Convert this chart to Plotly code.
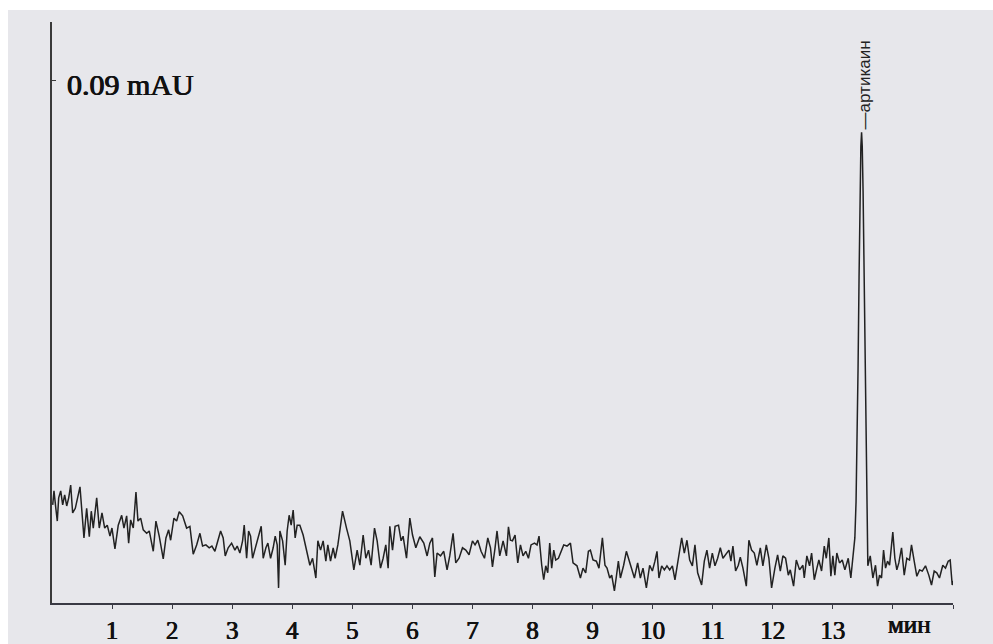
import plotly.graph_objects as go

# Retention time (min) and detector signal (mAU)
time_min = [
    0.012, 0.033, 0.067, 0.088, 0.111, 0.145, 0.178, 0.211, 0.245, 0.278,
    0.311, 0.344, 0.388, 0.466, 0.532, 0.577, 0.621, 0.654, 0.687, 0.744,
    0.787, 0.832, 0.877, 0.920, 0.965, 0.998, 1.048, 1.103, 1.160, 1.198,
    1.243, 1.276, 1.309, 1.353, 1.398, 1.431, 1.476, 1.519, 1.576, 1.619,
    1.686, 1.730, 1.785, 1.852, 1.897, 1.942, 1.975, 2.030, 2.075, 2.118,
    2.175, 2.241, 2.296, 2.351, 2.408, 2.463, 2.507, 2.562, 2.617, 2.662,
    2.712, 2.767, 2.807, 2.850, 2.884, 2.933, 2.990, 3.045, 3.083, 3.128,
    3.173, 3.200, 3.240, 3.273, 3.306, 3.339, 3.394, 3.439, 3.483, 3.516,
    3.561, 3.594, 3.639, 3.682, 3.716, 3.749, 3.772, 3.794, 3.839, 3.882,
    3.915, 3.948, 3.982, 4.015, 4.048, 4.082, 4.126, 4.181, 4.238, 4.293,
    4.338, 4.393, 4.426, 4.471, 4.514, 4.559, 4.592, 4.637, 4.681, 4.714,
    4.759, 4.837, 4.903, 4.958, 5.025, 5.080, 5.125, 5.180, 5.225, 5.270,
    5.313, 5.369, 5.413, 5.469, 5.513, 5.557, 5.596, 5.624, 5.669, 5.712,
    5.769, 5.812, 5.845, 5.902, 5.957, 6.002, 6.057, 6.123, 6.190, 6.245,
    6.290, 6.334, 6.373, 6.411, 6.468, 6.522, 6.577, 6.622, 6.677, 6.722,
    6.777, 6.834, 6.889, 6.943, 7.000, 7.043, 7.088, 7.143, 7.200, 7.255,
    7.300, 7.333, 7.376, 7.409, 7.454, 7.510, 7.566, 7.599, 7.632, 7.666,
    7.709, 7.754, 7.799, 7.842, 7.887, 7.932, 7.975, 8.032, 8.075, 8.108,
    8.153, 8.186, 8.220, 8.253, 8.286, 8.319, 8.353, 8.386, 8.431, 8.474,
    8.519, 8.574, 8.631, 8.674, 8.740, 8.797, 8.840, 8.885, 8.930, 8.963,
    9.007, 9.063, 9.106, 9.163, 9.206, 9.240, 9.285, 9.318, 9.363, 9.396,
    9.429, 9.463, 9.517, 9.562, 9.606, 9.651, 9.696, 9.750, 9.795, 9.839,
    9.895, 9.950, 9.995, 10.038, 10.072, 10.105, 10.150, 10.195, 10.238, 10.283,
    10.328, 10.371, 10.416, 10.483, 10.527, 10.571, 10.616, 10.661, 10.704, 10.749,
    10.815, 10.860, 10.903, 10.948, 10.993, 11.037, 11.082, 11.126, 11.170, 11.226,
    11.270, 11.303, 11.336, 11.381, 11.426, 11.459, 11.503, 11.559, 11.602, 11.647,
    11.692, 11.735, 11.792, 11.835, 11.892, 11.935, 11.980, 12.035, 12.080, 12.125,
    12.168, 12.213, 12.258, 12.291, 12.346, 12.391, 12.446, 12.501, 12.524, 12.567,
    12.612, 12.646, 12.691, 12.734, 12.767, 12.812, 12.857, 12.890, 12.933, 12.967,
    13.000, 13.033, 13.066, 13.111, 13.156, 13.200, 13.256, 13.299, 13.333, 13.366,
    13.386, 13.403, 13.419, 13.436, 13.453, 13.466, 13.478, 13.489, 13.503, 13.519,
    13.536, 13.553, 13.569, 13.582, 13.622, 13.666, 13.710, 13.744, 13.777, 13.810,
    13.844, 13.877, 13.910, 13.944, 13.977, 13.998, 14.032, 14.065, 14.098, 14.143,
    14.188, 14.231, 14.276, 14.309, 14.354, 14.398, 14.443, 14.488, 14.542, 14.597,
    14.642, 14.687, 14.730, 14.775, 14.830, 14.875, 14.920, 14.953, 14.987, 15.008,
]

signal_mAU = [
    0.0169, 0.0193, 0.0160, 0.0141, 0.0181, 0.0193, 0.0169, 0.0186, 0.0167, 0.0181,
    0.0203, 0.0155, 0.0163, 0.0200, 0.0112, 0.0163, 0.0114, 0.0158, 0.0129, 0.0181,
    0.0129, 0.0155, 0.0129, 0.0134, 0.0115, 0.0129, 0.0093, 0.0134, 0.0151, 0.0129,
    0.0150, 0.0103, 0.0143, 0.0129, 0.0191, 0.0141, 0.0146, 0.0126, 0.0120, 0.0124,
    0.0089, 0.0141, 0.0115, 0.0076, 0.0112, 0.0126, 0.0108, 0.0146, 0.0141, 0.0157,
    0.0150, 0.0129, 0.0132, 0.0084, 0.0100, 0.0120, 0.0098, 0.0100, 0.0095, 0.0098,
    0.0089, 0.0107, 0.0124, 0.0112, 0.0081, 0.0095, 0.0103, 0.0091, 0.0098, 0.0086,
    0.0107, 0.0134, 0.0077, 0.0124, 0.0115, 0.0077, 0.0100, 0.0115, 0.0132, 0.0077,
    0.0095, 0.0103, 0.0077, 0.0095, 0.0115, 0.0100, 0.0026, 0.0124, 0.0107, 0.0065,
    0.0124, 0.0151, 0.0134, 0.0160, 0.0112, 0.0134, 0.0134, 0.0117, 0.0091, 0.0065,
    0.0077, 0.0043, 0.0107, 0.0091, 0.0107, 0.0072, 0.0100, 0.0072, 0.0095, 0.0077,
    0.0100, 0.0158, 0.0129, 0.0107, 0.0057, 0.0091, 0.0065, 0.0117, 0.0077, 0.0091,
    0.0065, 0.0129, 0.0107, 0.0060, 0.0077, 0.0100, 0.0060, 0.0132, 0.0091, 0.0132,
    0.0134, 0.0107, 0.0115, 0.0077, 0.0146, 0.0117, 0.0095, 0.0114, 0.0103, 0.0081,
    0.0103, 0.0112, 0.0045, 0.0086, 0.0081, 0.0089, 0.0057, 0.0081, 0.0120, 0.0069,
    0.0077, 0.0095, 0.0091, 0.0083, 0.0107, 0.0100, 0.0108, 0.0089, 0.0077, 0.0112,
    0.0095, 0.0062, 0.0095, 0.0124, 0.0081, 0.0107, 0.0081, 0.0131, 0.0108, 0.0107,
    0.0117, 0.0069, 0.0100, 0.0081, 0.0089, 0.0077, 0.0100, 0.0103, 0.0100, 0.0115,
    0.0065, 0.0040, 0.0064, 0.0052, 0.0103, 0.0060, 0.0091, 0.0074, 0.0077, 0.0089,
    0.0100, 0.0098, 0.0103, 0.0069, 0.0064, 0.0043, 0.0060, 0.0052, 0.0089, 0.0091,
    0.0074, 0.0072, 0.0060, 0.0112, 0.0065, 0.0060, 0.0043, 0.0048, 0.0021, 0.0046,
    0.0072, 0.0043, 0.0065, 0.0089, 0.0074, 0.0055, 0.0043, 0.0069, 0.0043, 0.0060,
    0.0026, 0.0065, 0.0055, 0.0072, 0.0089, 0.0043, 0.0064, 0.0057, 0.0064, 0.0057,
    0.0064, 0.0040, 0.0072, 0.0112, 0.0086, 0.0108, 0.0074, 0.0064, 0.0100, 0.0052,
    0.0031, 0.0072, 0.0091, 0.0060, 0.0086, 0.0064, 0.0077, 0.0095, 0.0077, 0.0086,
    0.0091, 0.0072, 0.0098, 0.0055, 0.0065, 0.0079, 0.0060, 0.0029, 0.0108, 0.0091,
    0.0086, 0.0065, 0.0095, 0.0064, 0.0100, 0.0077, 0.0026, 0.0060, 0.0083, 0.0055,
    0.0081, 0.0077, 0.0048, 0.0057, 0.0029, 0.0074, 0.0057, 0.0065, 0.0043, 0.0081,
    0.0064, 0.0086, 0.0040, 0.0060, 0.0074, 0.0055, 0.0098, 0.0077, 0.0112, 0.0046,
    0.0081, 0.0048, 0.0086, 0.0069, 0.0074, 0.0057, 0.0077, 0.0043, 0.0086, 0.0112,
    0.0174, 0.0267, 0.0401, 0.0561, 0.0709, 0.0786, 0.0810, 0.0786, 0.0709, 0.0561,
    0.0401, 0.0267, 0.0120, 0.0064, 0.0081, 0.0043, 0.0065, 0.0029, 0.0048, 0.0043,
    0.0091, 0.0060, 0.0072, 0.0065, 0.0100, 0.0122, 0.0077, 0.0057, 0.0069, 0.0095,
    0.0048, 0.0077, 0.0074, 0.0100, 0.0072, 0.0046, 0.0057, 0.0055, 0.0064, 0.0048,
    0.0031, 0.0055, 0.0052, 0.0043, 0.0065, 0.0060, 0.0072, 0.0074, 0.0031, 0.0038,
]

tick_vals = [1, 2, 3, 4, 5, 6, 7, 8, 9, 10, 11, 12, 13, 14, 15]
tick_text = ["1", "2", "3", "4", "5", "6", "7", "8", "9", "10", "11", "12", "13", "", ""]
scale_value = 0.09
scale_label = "0.09 mAU"
unit_label = "мин"
unit_label_pos = 14.27
peak_name = "—артикаин"
peak_time = 13.53
peak_top = 0.0812

n = min(len(time_min), len(signal_mAU))

fig = go.Figure()
fig.add_trace(go.Scatter(
    x=time_min[:n], y=signal_mAU[:n], mode="lines",
    line=dict(color="#222222", width=1.5), hoverinfo="skip", showlegend=False,
))

serif = "Liberation Serif, Times New Roman, serif"
thick = "0.45px 0px 0px #111111, -0.45px 0px 0px #111111"

fig.update_layout(
    width=993, height=644,
    margin=dict(l=52, r=40, t=22, b=41),
    paper_bgcolor="white",
    plot_bgcolor="rgba(0,0,0,0)",
    showlegend=False,
    xaxis=dict(
        range=[0, 15], showgrid=False, zeroline=False, automargin=False,
        showline=True, linecolor="#3a3a44", linewidth=1.6,
        ticks="outside", ticklen=4, tickwidth=1.2, tickcolor="#3a3a44",
        tickvals=tick_vals, ticktext=tick_text,
        tickfont=dict(family=serif, size=25, color="#111111", shadow=thick),
    ),
    yaxis=dict(
        range=[0, 0.1], showgrid=False, zeroline=False, automargin=False,
        showline=True, linecolor="#3a3a3a", linewidth=1.6,
        ticks="inside", ticklen=4, tickwidth=1.2, tickcolor="#3a3a3a",
        tickvals=[scale_value], showticklabels=False,
    ),
    shapes=[dict(
        type="rect", xref="paper", yref="paper", layer="below",
        x0=-0.0488, x1=1.1, y0=-0.2, y1=1.0207,
        fillcolor="#e7e7eb", line=dict(width=0),
    )],
    annotations=[
        dict(x=0, xref="paper", y=scale_value, yref="y", xanchor="left", yanchor="middle",
             xshift=13, yshift=-4, showarrow=False, text=scale_label,
             font=dict(family=serif, size=30, color="#111111", shadow=thick)),
        dict(x=unit_label_pos, xref="x", y=0, yref="paper", xanchor="center", yanchor="top",
             yshift=-6, showarrow=False, text=unit_label,
             font=dict(family=serif, size=25, color="#111111", shadow=thick)),
        dict(x=peak_time, xref="x", y=peak_top, yref="y", xanchor="center", yanchor="bottom",
             showarrow=False, text=peak_name, textangle=-90,
             font=dict(family="Liberation Sans, Arial, sans-serif", size=17, color="#222222")),
    ],
)

fig.write_html(
    "out.html",
    config={"displayModeBar": False},
    post_script="document.body.style.margin='0';document.body.style.overflow='hidden';",
)
